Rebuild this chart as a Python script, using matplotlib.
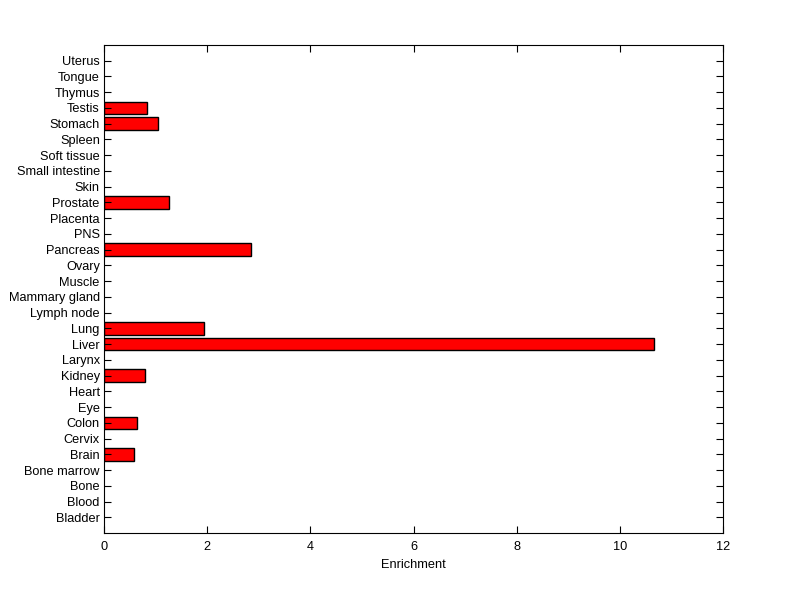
import matplotlib
matplotlib.use("Agg")
import matplotlib.pyplot as plt
import numpy as np

tissues = ["Bladder", "Blood", "Bone", "Bone marrow", "Brain", "Cervix", "Colon",
           "Eye", "Heart", "Kidney", "Larynx", "Liver", "Lung", "Lymph node",
           "Mammary gland", "Muscle", "Ovary", "Pancreas", "PNS", "Placenta",
           "Prostate", "Skin", "Small intestine", "Soft tissue", "Spleen",
           "Stomach", "Testis", "Thymus", "Tongue", "Uterus"]
enrichment = [0, 0, 0, 0, 0.58, 0, 0.63, 0, 0, 0.80, 0, 10.66, 1.94, 0,
              0, 0, 0, 2.84, 0, 0, 1.25, 0, 0, 0, 0, 1.04, 0.83, 0, 0, 0]

plt.rcParams['font.family'] = ['Liberation Sans', 'DejaVu Sans']
plt.rcParams['font.size'] = 9.2

fig = plt.figure(figsize=(8, 5.99), dpi=100)
ax = fig.add_axes([0.13, 0.110, 0.774, 0.815])

y = np.arange(1, len(tissues) + 1)
vals = np.array(enrichment)
mask = vals > 0
ax.barh(y[mask], vals[mask], height=0.8, color='#ff0000', edgecolor='black', linewidth=1)

ax.set_xlim(0, 12)
ax.set_ylim(0, len(tissues) + 1)
ax.set_xticks(np.arange(0, 13, 2))
ax.set_yticks(y)
ax.set_yticklabels(tissues)
ax.set_xlabel("Enrichment", labelpad=4)
ax.tick_params(direction='in', length=5, width=0.8, top=True, right=True)
ax.tick_params(axis='x', pad=6)
ax.tick_params(axis='y', pad=3)
for s in ax.spines.values():
    s.set_linewidth(0.8)

fig.savefig("out.png", dpi=100)
